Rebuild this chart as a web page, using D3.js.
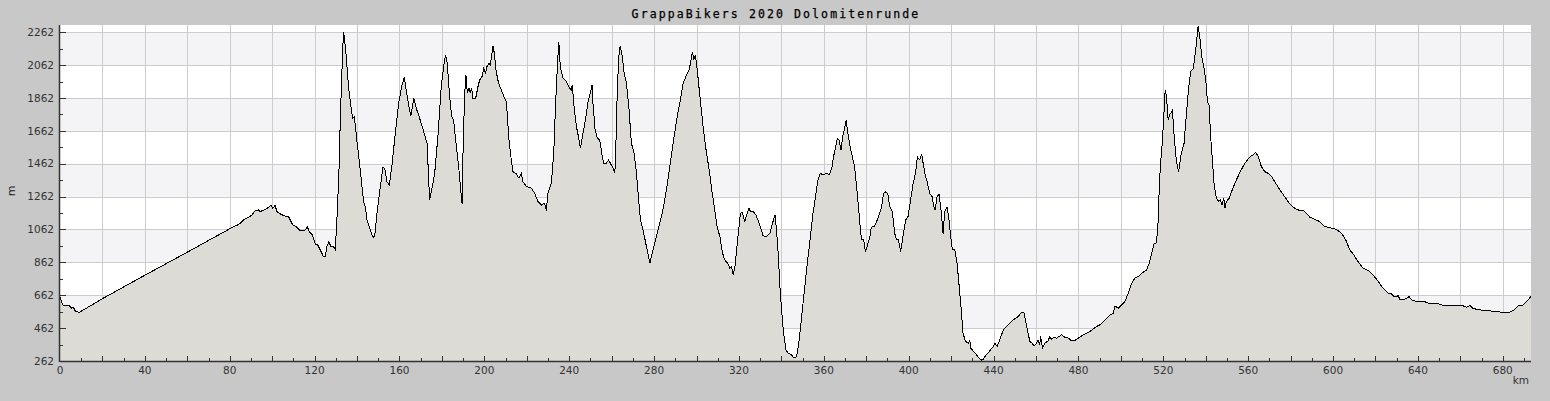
<!DOCTYPE html>
<html>
<head>
<meta charset="utf-8">
<script src="https://cdn.jsdelivr.net/npm/d3@7"></script>
<style>
  body { margin: 0; background: #c8c8c8; }
  svg { display: block; }
</style>
</head>
<body>
<div id="chart"></div>
<script>
// distance along the route (km) and elevation (m)
var distKm = [0, 1.3, 4.4, 5.5, 6.3, 7.1, 9.1, 20.4, 40.3, 60, 80.5, 84.4, 86.5, 88.8, 90.4, 92, 93.6, 94.3, 96.2, 98.3, 99.4, 100.3, 101.4, 102.2, 103.8, 105.7, 107.7, 108.5, 109.7, 111.3, 113.2, 115.6, 116.5, 117.6, 119, 120.3, 121.5, 123, 124.2, 125, 125.8, 126.7, 127.7, 128.6, 129.7, 130, 130.8, 131.6, 132.1, 132.9, 133.6, 134.1, 134.9, 136, 137.1, 137.9, 138.7, 139.9, 141.5, 143.1, 143.9, 144.7, 146.2, 147.5, 148.3, 149.4, 150.9, 152.2, 153, 154.1, 155.2, 156.4, 157.7, 159.6, 161.2, 162.3, 163.5, 164.3, 165.4, 166.7, 167.9, 169.5, 171.4, 173, 174.2,
  175.5, 176.6, 178.1, 179.7, 180.8, 181.7, 182.5, 183.3, 184.1, 184.7, 185.5, 186.8, 187.9, 188.7, 189.5, 189.9, 190.7, 191.3, 192, 192.8, 193.4, 194, 194.6, 195.9, 197, 197.8, 198.9, 199.7, 200.6, 201.2, 202.2, 202.8, 203.4, 204.1, 204.7, 205.6, 206.7, 208, 209.6, 210.4, 211.6, 212.7, 213.5, 215.1, 216.3, 217.4, 218.2, 219.8, 222.2, 223.7, 225.3, 226.9, 228.4, 229.2, 230, 231.6, 232.7, 233.6, 234.4, 235.1, 235.8, 237.1, 238.7, 239.9, 240.9, 241.5, 242.1, 243.4, 244.5, 245.3, 246.5, 247.8, 248.9, 249.7, 250.8, 251.2, 252.2, 253.3, 254.4, 255.6, 256.3, 257.5, 258.5, 259.4, 260.7, 261.5, 261.9, 262.7, 263.4, 264, 264.8, 265.9, 267, 268.2, 269.3, 270.6, 271.7, 272.8, 273.6, 274.8, 276.4, 278, 279.5, 281.1, 282.7, 284.3, 285.8, 287.4, 289, 290.6, 292.1, 293.7, 295.3, 296.5, 297.3, 298.1, 298.7, 299.5, 300.5, 301.6, 303.1, 304.7, 306, 307.4, 308.6, 309.7, 311, 312.3, 313.3, 314.9, 315.7, 316.5, 317.3, 318.1, 318.9, 319.7, 320.7, 321.5, 322.8, 323.6, 324.7, 325.5, 326.7, 328, 329.5, 330.6, 331.4, 333, 334.6, 335.8, 337, 337.7, 338.5, 339.3, 340.1, 340.9, 342.1, 343.2, 344.8, 345.9, 347.2, 348.4,
  350.2, 351.7, 353.3, 354.9, 356.1, 357.2, 358.3, 359.6, 361.2, 362.7, 363.9, 364.6, 365.6, 366.4, 367.2, 368.1, 369, 369.8, 370.5, 371.1, 372.2, 373.4, 374.5, 375.6, 376.6, 377.4, 378, 378.8, 379.6, 380.8, 381.6, 382.4, 384, 385.5, 387.1, 388.2, 389.2, 390.1, 391.1, 392.3, 393.4, 394.2, 395.1, 396.2, 397.3, 398.6, 399.7, 400.8, 402.1, 403.2, 404.1, 405.2, 406.1, 406.8, 407.6, 408.7, 409.9, 411, 411.8, 412.4, 413.4, 414.3, 415.4, 416.2, 417, 418.1, 419, 419.8, 420.6, 421.7, 422.8, 423.8, 424.9, 425.6, 426.7, 428, 428.8, 429.3, 430.4, 431.5, 432.7, 434.3, 435.1, 436.7, 438.2, 439.8, 440.7, 441.7, 442.6, 443.7, 444.8, 446.1, 447.7, 449.2, 450.5, 451.6, 452.8, 454.3, 455.2, 456.3, 457.1, 458.2, 459.1, 460.2, 461, 461.8, 462.1, 463.1, 464.2, 465.7, 466.5, 467.3, 468.4, 469.7, 470.9, 472, 473.6, 475.2, 476.7, 478.3, 479.9, 482.2, 485.4, 488.5, 490.9, 492.5, 494.8, 496.4, 497.3, 498.8, 500.3, 501.9, 503.5, 505.1, 506.6, 508.2, 509.8, 512.1, 513.4, 514.5, 515.6, 516.8, 517.6, 518.1, 518.7, 519.5, 520.3, 520.9, 521.5, 522.3,
  523, 524.3, 525, 526.1, 527.2, 528.5, 529.8, 530.9, 532, 532.9, 534, 534.8, 535.6, 536.4, 537.2, 538.1, 539.2, 540, 540.8, 541.6, 542.2, 543, 543.9, 545, 546.1, 546.9, 547.7, 548.5, 549.1, 549.7, 551, 552.6, 554.4, 556.3, 558.4, 560.7, 562.3, 563.6, 564.7, 566.2, 567.8, 569.4, 571, 573, 574.9, 577.2, 579.6, 581.9, 584.3, 585.9, 587.5, 589, 591.4, 593.8, 596.1, 598.5, 601.6, 604, 606, 607.9, 609.8, 611.8, 614.2, 616.6, 618.9, 621.3, 623.6, 626, 627.6, 628.7, 630.7, 631.5, 633.8, 635.9, 637, 639.4, 642.5, 644.9, 648.8, 651.1, 655.1, 658.2, 660.6, 663, 664.5, 666.1, 669.2, 672.4, 676.3, 680.2, 682.6, 685, 687.3, 689.7, 691.2, 693.3];

var elevM = [650, 603, 599, 583, 589, 567, 558, 644, 786, 924, 1070, 1094, 1120, 1135, 1150, 1177, 1181, 1171, 1181, 1197, 1210, 1191, 1210, 1171, 1157, 1145, 1141, 1120, 1090, 1080, 1055, 1059, 1080, 1045, 1029, 974, 968, 928, 897, 897, 958, 988, 958, 962, 942, 999, 1201, 1465, 1729, 2033, 2266, 2225, 2114, 1931, 1810, 1739, 1749, 1607, 1424, 1232, 1201, 1120, 1059, 1015, 1019, 1161, 1313, 1439, 1435, 1353, 1333, 1445, 1607, 1830, 1942, 1988, 1881, 1820, 1753, 1860, 1800, 1739, 1658, 1587, 1242,
  1323, 1404, 1627, 1931, 2053, 2124, 2073, 1931, 1810, 1749, 1729, 1566, 1445, 1323, 1218, 1506, 1881, 2002, 1891, 1921, 1891, 1925, 1860, 1860, 1931, 1972, 1992, 2043, 2013, 2053, 2073, 2063, 2114, 2179, 2134, 2023, 1952, 1911, 1857, 1840, 1607, 1485, 1414, 1400, 1374, 1404, 1353, 1323, 1313, 1282, 1232, 1211, 1221, 1177, 1282, 1343, 1526, 1830, 2053, 2205, 2053, 1982, 1962, 1931, 1907, 1942, 1830, 1688, 1617, 1556, 1647, 1739, 1840, 1881, 1942, 1830, 1668, 1617, 1607, 1506, 1465, 1465, 1485, 1465, 1435, 1404, 1526, 1931, 2114, 2175, 2134, 2013, 1952, 1790, 1587, 1526, 1404, 1232, 1120, 1059, 958, 857, 938, 1019, 1100, 1191, 1303, 1445, 1587, 1729, 1830, 1952, 2002, 2033, 2083, 2144, 2093, 2124, 2013, 1871, 1688, 1526, 1424, 1282, 1181, 1080, 1019, 917, 877, 853, 826, 836, 786, 836, 938, 1039, 1161, 1165, 1110, 1151, 1191, 1171, 1171, 1151, 1100, 1059, 1023, 1019, 1039, 1100, 1151, 1059, 917, 715, 573, 451, 329, 309, 299, 279, 289, 390,
  613, 795, 978, 1161, 1262, 1363, 1404, 1394, 1404, 1394, 1445, 1506, 1566, 1617, 1607, 1546, 1637, 1678, 1725, 1668, 1577, 1506, 1445, 1303, 1161, 1039, 999, 999, 924, 978, 1009, 1076, 1084, 1130, 1191, 1282, 1292, 1282, 1201, 1171, 1039, 999, 999, 928, 1019, 1120, 1141, 1232, 1343, 1404, 1502, 1485, 1522, 1465, 1404, 1353, 1282, 1262, 1201, 1181, 1262, 1278, 1161, 1035, 1171, 1197, 1120, 1019, 938, 938, 857, 715, 553, 431, 384, 370, 386, 340, 323, 309, 285, 268, 272, 303, 323, 350, 370, 350, 380, 421, 455, 471, 492, 512, 522, 532, 553, 559, 502, 431, 380, 370, 354, 370, 390, 360, 415, 340, 370, 384, 411, 394, 407, 401, 411, 421, 407, 401, 386, 386, 401, 421, 441, 471, 488, 512, 542, 553, 597, 583, 603, 624, 674, 735, 766, 776, 796, 816, 857, 917, 974, 982, 1120, 1323, 1465, 1587, 1769, 1911, 1871, 1729,
  1759, 1786, 1648, 1485, 1414, 1526, 1587, 1769, 1931, 2023, 2037, 2104, 2195, 2300, 2236, 2114, 2043, 1972, 1840, 1820, 1648, 1506, 1343, 1252, 1232, 1242, 1211, 1252, 1191, 1232, 1252, 1307, 1363, 1414, 1465, 1502, 1516, 1530, 1506, 1445, 1414, 1404, 1384, 1343, 1303, 1262, 1218, 1191, 1177, 1181, 1161, 1137, 1124, 1110, 1080, 1073, 1063, 1039, 999, 938, 907, 867, 826, 812, 786, 745, 705, 674, 670, 654, 658, 638, 638, 654, 634, 623, 627, 613, 613, 603, 599, 597, 601, 589, 599, 581, 573, 569, 563, 558, 556, 569, 597, 603, 624, 654];

var yLabelTicks = [262, 462, 662, 862, 1062, 1262, 1462, 1662, 1862, 2062, 2262];
var yMinorTicks = [362, 562, 762, 962, 1162, 1362, 1562, 1762, 1962, 2162];
var xLabelTicks = [0, 40, 80, 120, 160, 200, 240, 280, 320, 360, 400, 440, 480, 520, 560, 600, 640, 680];
var xGridTicks = d3.range(20, 700, 20);
var xMinorTicks = d3.range(10, 700, 20);

var chartTitle = "GrappaBikers 2020 Dolomitenrunde";

var W = 1550, H = 401;
var margin = {top: 25, right: 19, bottom: 40, left: 60};
var width = W - margin.left - margin.right,
    height = H - margin.top - margin.bottom;

var x = d3.scaleLinear().domain([0, 693.3]).range([0, width]);
var y = d3.scaleLinear().domain([262, 2306]).range([height, 0]);

var svg = d3.select("#chart").append("svg")
    .attr("width", W)
    .attr("height", H);

svg.append("rect").attr("width", W).attr("height", H).attr("fill", "#c8c8c8");

var g = svg.append("g")
    .attr("transform", "translate(" + margin.left + "," + margin.top + ")");

// plot background + alternating bands
g.append("rect").attr("width", width).attr("height", height).attr("fill", "#ffffff");
var bandEdges = yLabelTicks.concat([2306]);
for (var b = 0; b < bandEdges.length - 1; b++) {
    if (b % 2 === 1) {
        g.append("rect")
            .attr("x", 0)
            .attr("width", width)
            .attr("y", y(bandEdges[b + 1]))
            .attr("height", y(bandEdges[b]) - y(bandEdges[b + 1]))
            .attr("fill", "#f4f3f6");
    }
}

// grid
g.append("g").selectAll("line").data(xGridTicks).enter().append("line")
    .attr("x1", function (d) { return Math.round(x(d)) + 0.5; })
    .attr("x2", function (d) { return Math.round(x(d)) + 0.5; })
    .attr("y1", 0).attr("y2", height)
    .attr("stroke", "#cccccc").attr("stroke-width", 1);
g.append("g").selectAll("line").data(yLabelTicks.slice(1)).enter().append("line")
    .attr("y1", function (d) { return Math.round(y(d)) + 0.5; })
    .attr("y2", function (d) { return Math.round(y(d)) + 0.5; })
    .attr("x1", 0).attr("x2", width)
    .attr("stroke", "#cccccc").attr("stroke-width", 1);

// profile
var pts = distKm.map(function (d, i) { return [d, elevM[i]]; });

var area = d3.area()
    .x(function (d) { return x(d[0]); })
    .y0(height)
    .y1(function (d) { return y(d[1]); });

var line = d3.line()
    .x(function (d) { return x(d[0]); })
    .y(function (d) { return y(d[1]); });

g.append("path").datum(pts)
    .attr("d", area)
    .attr("fill", "#dcdbd6");

g.append("path").datum(pts)
    .attr("d", line)
    .attr("fill", "none")
    .attr("stroke", "#000")
    .attr("stroke-width", 1)
    .attr("shape-rendering", "crispEdges");

// axes
var axisColor = "#333333";
var tickFont = "DejaVu Sans";
var xAxis = g.append("g").attr("transform", "translate(0," + height + ")");
xAxis.append("line").attr("x1", 0).attr("x2", width).attr("y1", 0.5).attr("y2", 0.5)
    .attr("stroke", axisColor).attr("stroke-width", 1.5);
xAxis.selectAll(".maj").data(xGridTicks).enter().append("line")
    .attr("x1", function (d) { return Math.round(x(d)) + 0.5; })
    .attr("x2", function (d) { return Math.round(x(d)) + 0.5; })
    .attr("y1", 0).attr("y2", -5).attr("stroke", axisColor);
xAxis.selectAll(".min").data(xMinorTicks).enter().append("line")
    .attr("x1", function (d) { return Math.round(x(d)) + 0.5; })
    .attr("x2", function (d) { return Math.round(x(d)) + 0.5; })
    .attr("y1", 0).attr("y2", -3).attr("stroke", axisColor);
xAxis.selectAll("text").data(xLabelTicks).enter().append("text")
    .attr("x", function (d) { return x(d); })
    .attr("y", 12.5)
    .attr("text-anchor", "middle")
    .attr("font-family", tickFont)
    .attr("font-size", "10.5px")
    .attr("fill", "#333")
    .text(function (d) { return d; });
svg.append("text")
    .attr("x", 1529).attr("y", 384)
    .attr("text-anchor", "end")
    .attr("font-family", tickFont)
    .attr("font-size", "10.5px")
    .attr("fill", "#333")
    .text("km");

var yAxis = g.append("g");
yAxis.append("line").attr("x1", -0.5).attr("x2", -0.5).attr("y1", 0).attr("y2", height + 1)
    .attr("stroke", axisColor).attr("stroke-width", 1.5);
yAxis.selectAll(".maj").data(yLabelTicks).enter().append("line")
    .attr("y1", function (d) { return Math.round(y(d)) + 0.5; })
    .attr("y2", function (d) { return Math.round(y(d)) + 0.5; })
    .attr("x1", 0).attr("x2", 6).attr("stroke", axisColor);
yAxis.selectAll(".min").data(yMinorTicks).enter().append("line")
    .attr("y1", function (d) { return Math.round(y(d)) + 0.5; })
    .attr("y2", function (d) { return Math.round(y(d)) + 0.5; })
    .attr("x1", 0).attr("x2", 3).attr("stroke", axisColor);
yAxis.selectAll("text").data(yLabelTicks).enter().append("text")
    .attr("x", -6)
    .attr("y", function (d) { return y(d); })
    .attr("dy", "0.35em")
    .attr("text-anchor", "end")
    .attr("font-family", tickFont)
    .attr("font-size", "10.5px")
    .attr("fill", "#333")
    .text(function (d) { return d; });

svg.append("text")
    .attr("transform", "translate(15,191) rotate(-90)")
    .attr("text-anchor", "middle")
    .attr("font-family", tickFont)
    .attr("font-size", "11px")
    .attr("fill", "#222")
    .text("m");

// title
svg.append("text")
    .attr("x", 776).attr("y", 17.5)
    .attr("text-anchor", "middle")
    .attr("font-family", "DejaVu Sans Mono")
    .attr("font-size", "11.5px")
    .attr("letter-spacing", "2.1px")
    .attr("fill", "#000")
    .attr("stroke", "#000")
    .attr("stroke-width", 0.25)
    .text(chartTitle);
</script>
</body>
</html>
